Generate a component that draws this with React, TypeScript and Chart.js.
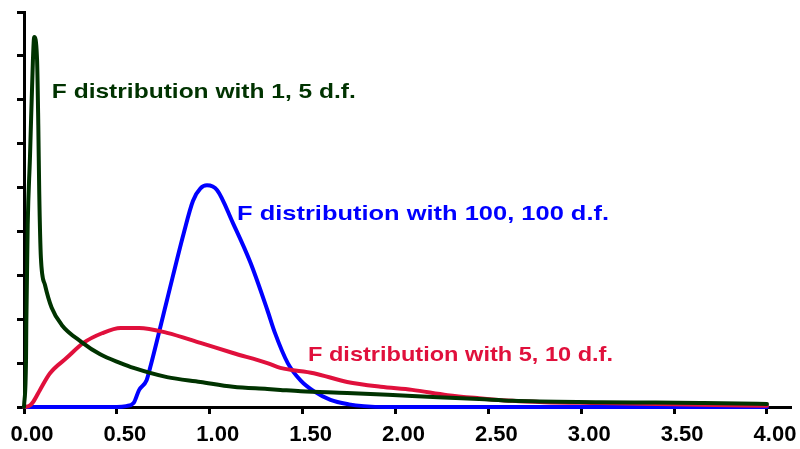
import React, { useEffect, useRef } from "react";
import { Chart, registerables } from "chart.js";

Chart.register(...registerables);

// F(1,5) curve
const greenX = [0, 0.011, 0.0124, 0.0199, 0.032, 0.048, 0.055, 0.07, 0.077, 0.082, 0.091, 0.113, 0.149, 0.203, 0.31, 0.41, 0.52, 0.59, 0.77, 0.95, 1.125, 1.31, 1.38, 1.49, 1.74, 2.09, 2.45, 2.63, 3.1, 3.4, 3.64, 3.85, 4.0];
const greenY = [0, 1.1, 1.87, 4.15, 5.67, 7.9, 8.43, 7.95, 6.42, 4.9, 3.4, 2.78, 2.26, 1.87, 1.48, 1.2, 1.0, 0.89, 0.68, 0.57, 0.46, 0.41, 0.39, 0.36, 0.32, 0.25, 0.18, 0.14, 0.11, 0.1, 0.09, 0.08, 0.07];

// F(5,10) curve
const redX = [0, 0.03, 0.05, 0.086, 0.14, 0.23, 0.32, 0.42, 0.52, 0.62, 0.77, 0.95, 1.125, 1.31, 1.38, 1.56, 1.74, 1.92, 2.09, 2.28, 2.45, 2.63, 2.8, 3.1, 3.64, 4.0];
const redY = [0, 0.03, 0.12, 0.39, 0.77, 1.12, 1.46, 1.68, 1.8, 1.8, 1.69, 1.46, 1.23, 1.0, 0.89, 0.77, 0.57, 0.46, 0.39, 0.27, 0.2, 0.14, 0.11, 0.09, 0.05, 0.03];

// F(100,100) curve
const blueX = [0, 0.5, 0.55, 0.59, 0.62, 0.66, 0.68, 0.77, 0.86, 0.91, 0.95, 0.985, 1.04, 1.125, 1.22, 1.31, 1.35, 1.42, 1.49, 1.56, 1.65, 1.75, 1.83, 1.95, 4.0];
const blueY = [0, 0, 0.02, 0.09, 0.39, 0.61, 0.91, 2.44, 3.96, 4.7, 4.98, 5.05, 4.94, 4.19, 3.28, 2.21, 1.7, 1.0, 0.6, 0.36, 0.16, 0.06, 0.02, 0, 0];

const xTickValues = [0, 0.5, 1, 1.5, 2, 2.5, 3, 3.5, 4];

const labels = [
  { text: "F distribution with 1, 5 d.f.", x: 0.15, y: 7.04, color: "#003300", width: 304 },
  { text: "F distribution with 100, 100 d.f.", x: 1.147, y: 4.26, color: "#0000ff", width: 372 },
  { text: "F distribution with 5, 10 d.f.", x: 1.529, y: 1.05, color: "#e0103c", width: 305 },
];

const zip = (xs: number[], ys: number[]) => xs.map((x, i) => ({ x, y: ys[i] }));

const FONT = "'Liberation Sans', Arial, sans-serif";

export default function App() {
  const ref = useRef<HTMLCanvasElement | null>(null);
  useEffect(() => {
    if (!ref.current) return;
    const textPlugin = {
      id: "textLabels",
      afterDatasetsDraw(chart: any) {
        const ctx = chart.ctx;
        const xs = chart.scales.x;
        const ys = chart.scales.y;
        ctx.save();
        ctx.font = `bold 21px ${FONT}`;
        ctx.textAlign = "left";
        ctx.textBaseline = "alphabetic";
        for (const l of labels) {
          const w = ctx.measureText(l.text).width;
          ctx.save();
          ctx.fillStyle = l.color;
          ctx.translate(xs.getPixelForValue(l.x), ys.getPixelForValue(l.y));
          ctx.scale(l.width / w, 1);
          ctx.fillText(l.text, 0, 0);
          ctx.restore();
        }
        ctx.restore();
      },
    };
    const line = (data: any, color: string) => ({
      data,
      borderColor: color,
      borderWidth: 4,
      pointRadius: 0,
      cubicInterpolationMode: "monotone",
      fill: false,
      clip: false,
      borderJoinStyle: "round",
      borderCapStyle: "round",
    });
    const chart = new Chart(ref.current, {
      type: "line",
      data: {
        datasets: [
          line(zip(greenX, greenY), "#003300"),
          line(zip(redX, redY), "#e0103c"),
          line(zip(blueX, blueY), "#0000ff"),
        ],
      },
      options: {
        animation: false,
        responsive: true,
        maintainAspectRatio: false,
        layout: { padding: { left: 17, right: 10, top: 12, bottom: 0 } },
        plugins: { legend: { display: false }, tooltip: { enabled: false } },
        scales: {
          x: {
            type: "linear",
            min: 0,
            max: 4.124,
            afterBuildTicks: (scale: any) => {
              scale.ticks = xTickValues.map((v) => ({ value: v }));
            },
            afterFit: (scale: any) => {
              scale.height = 42;
              scale.paddingLeft = 0;
              scale.paddingRight = 0;
            },
            ticks: {
              includeBounds: false,
              labelOffset: 8,
              padding: 10,
              maxRotation: 0,
              autoSkip: false,
              color: "#000",
              font: { family: FONT, size: 22, weight: "bold", lineHeight: 1 },
              callback: (v: any) => Number(v).toFixed(2),
            },
            grid: { drawOnChartArea: false, drawTicks: true, tickLength: 7, color: "#000", lineWidth: 3 },
            border: { display: true, color: "#000", width: 3 },
          },
          y: {
            min: 0,
            max: 9,
            afterFit: (scale: any) => {
              scale.width = 7;
              scale.paddingTop = 0;
              scale.paddingBottom = 0;
            },
            ticks: { stepSize: 1, display: false },
            grid: { drawOnChartArea: false, drawTicks: true, tickLength: 7, color: "#000", lineWidth: 3 },
            border: { display: true, color: "#000", width: 3 },
          },
        },
      },
      plugins: [textPlugin],
    } as any);
    return () => chart.destroy();
  }, []);
  return (
    <div style={{ position: "fixed", left: 0, top: 0, width: 800, height: 449, background: "#fff" }}>
      <canvas ref={ref} />
    </div>
  );
}
